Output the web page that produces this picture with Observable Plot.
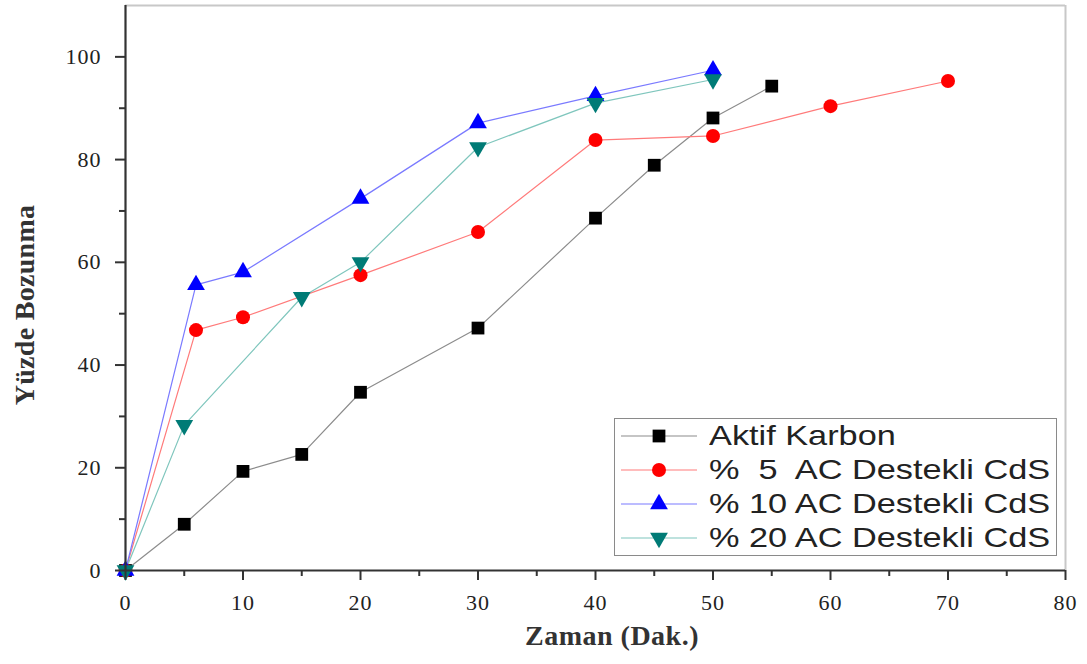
<!DOCTYPE html>
<html>
<head>
<meta charset="utf-8">
<script src="https://cdn.jsdelivr.net/npm/d3@7"></script>
<script src="https://cdn.jsdelivr.net/npm/@observablehq/plot@0.6"></script>
<style>
  html, body { margin: 0; padding: 0; background: #fff; }
  #wrap { position: relative; width: 1087px; height: 664px; }
  #wrap svg text { fill: #222; }
  g[aria-label="y-axis tick label"] text, g[aria-label="x-axis tick label"] text {
    font-family: "Liberation Serif", "DejaVu Serif", serif; font-size: 22px; letter-spacing: 1px; fill: #3a3a3a;
  }
  .title {
    position: absolute; font-family: "Liberation Serif", "DejaVu Serif", serif; font-size: 28px;
    font-weight: bold; color: #333; white-space: pre; line-height: 1;
  }
  #xtitle { left: 612px; top: 622px; transform: translateX(-50%); letter-spacing: 0.5px; }
  #ytitle { left: 25px; top: 305px; transform: translate(-50%, -50%) rotate(-90deg); letter-spacing: 0.3px; }
  #legend {
    position: absolute; left: 614px; top: 418px; width: 441px; height: 136px;
    border: 1px solid #8a8a8a; background: #fff; box-sizing: content-box;
    font-family: "Liberation Sans", Arial, sans-serif; font-size: 28px; color: #222;
  }
  .row { position: absolute; left: 0; height: 34px; display: flex; align-items: center; white-space: pre; }
  .row svg { margin-left: 6px; margin-right: 12px; }
  .row span { display: inline-block; transform: scaleX(1.225); transform-origin: left center; }
</style>
</head>
<body>
<div id="wrap"></div>
<script>
// ---- data ----
const seriesNames = ["Aktif Karbon", "%  5  AC Destekli CdS", "% 10 AC Destekli CdS", "% 20 AC Destekli CdS"];
const timeAK  = [0, 5, 10, 15, 20, 30, 40, 45, 50, 55];
const valAK   = [0, 9.0, 19.3, 22.6, 34.7, 47.2, 68.6, 78.9, 88.1, 94.3];
const time5   = [0, 6, 10, 20, 30, 40, 50, 60, 70];
const val5    = [0, 46.8, 49.3, 57.5, 65.9, 83.8, 84.6, 90.4, 95.3];
const time10  = [0, 6, 10, 20, 30, 40, 50];
const val10   = [0, 55.6, 58.1, 72.4, 87.1, 92.4, 97.4];
const time20  = [0, 5, 15, 20, 30, 40, 50];
const val20   = [0, 28.3, 53.2, 60.0, 82.4, 91.0, 95.6];
const xTicks = [0, 10, 20, 30, 40, 50, 60, 70, 80];
const xMinor = [5, 15, 25, 35, 45, 55, 65, 75];
const yTicks = [0, 20, 40, 60, 80, 100];
const yMinor = [10, 30, 50, 70, 90];
const xTitle = "Zaman (Dak.)";
const yTitle = "Yüzde Bozunma";

// ---- styles ----
const triangleDown = {
  draw(context, size) {
    const y = -Math.sqrt(size / (Math.sqrt(3) * 3));
    context.moveTo(0, -y * 2);
    context.lineTo(-Math.sqrt(3) * y, y);
    context.lineTo(Math.sqrt(3) * y, y);
    context.closePath();
  }
};
const styles = [
  {line: "#8c8c8c", fill: "#000000", symbol: "square", r: 7.2},
  {line: "#ff7a7a", fill: "#ff0000", symbol: "circle", r: 7},
  {line: "#7a7aff", fill: "#0000ff", symbol: "triangle", r: 6.6},
  {line: "#7fc6bd", fill: "#007b76", symbol: triangleDown, r: 6.6}
];
const raw = [[timeAK, valAK], [time5, val5], [time10, val10], [time20, val20]];
const series = raw.map(([t, v]) => t.map((x, i) => ({x, y: v[i]})));

const marks = [];
series.forEach((d, i) => {
  const s = styles[i];
  marks.push(Plot.line(d, {x: "x", y: "y", stroke: s.line, strokeWidth: 1.2}));
});
series.forEach((d, i) => {
  const s = styles[i];
  marks.push(Plot.dot(d, {x: "x", y: "y", symbol: () => s.symbol, fill: s.fill, stroke: "none", r: s.r}));
});

const chart = Plot.plot({
  width: 1087,
  height: 664,
  marginLeft: 125,
  marginRight: 22,
  marginTop: 5,
  marginBottom: 94,
  x: {domain: [0, 80]},
  y: {domain: [0, 110]},
  symbol: {type: "identity"},
  marks: [
    Plot.ruleY([110], {stroke: "#c8c8c8", strokeWidth: 2}),
    Plot.ruleX([80], {stroke: "#c8c8c8", strokeWidth: 2}),
    ...marks,
    Plot.axisX({ticks: xTicks, tickSize: 10, tickPadding: 14, stroke: "#333", strokeWidth: 2, label: null}),
    Plot.axisX({ticks: xMinor, tickSize: 6, text: null, stroke: "#333", strokeWidth: 2, label: null}),
    Plot.axisY({ticks: yTicks, tickSize: 10, tickPadding: 14, stroke: "#333", strokeWidth: 2, label: null}),
    Plot.axisY({ticks: yMinor, tickSize: 6, text: null, stroke: "#333", strokeWidth: 2, label: null}),
    Plot.ruleX([0], {stroke: "#333", strokeWidth: 2.2}),
    Plot.ruleY([0], {stroke: "#333", strokeWidth: 2.2})
  ]
});
const wrap = document.getElementById("wrap");
wrap.appendChild(chart);

// ---- axis titles ----
const xt = document.createElement("div");
xt.className = "title"; xt.id = "xtitle"; xt.textContent = xTitle;
wrap.appendChild(xt);
const yt = document.createElement("div");
yt.className = "title"; yt.id = "ytitle"; yt.textContent = yTitle;
wrap.appendChild(yt);

// ---- legend ----
const legend = document.createElement("div");
legend.id = "legend";
seriesNames.forEach((name, i) => {
  const s = styles[i];
  const row = document.createElement("div");
  row.className = "row";
  row.style.top = (0 + i * 34) + "px";
  const sw = d3.create("svg").attr("width", 76).attr("height", 24);
  sw.append("line").attr("x1", 0).attr("x2", 76).attr("y1", 12).attr("y2", 12).attr("stroke", s.line).attr("stroke-width", 1.2);
  const sym = typeof s.symbol === "string"
    ? {square: d3.symbolSquare, circle: d3.symbolCircle, triangle: d3.symbolTriangle}[s.symbol]
    : s.symbol;
  sw.append("path").attr("transform", "translate(38,12)")
    .attr("d", d3.symbol(sym, Math.PI * s.r * s.r)()).attr("fill", s.fill);
  row.appendChild(sw.node());
  const span = document.createElement("span");
  span.textContent = name;
  row.appendChild(span);
  legend.appendChild(row);
});
wrap.appendChild(legend);
</script>
</body>
</html>
